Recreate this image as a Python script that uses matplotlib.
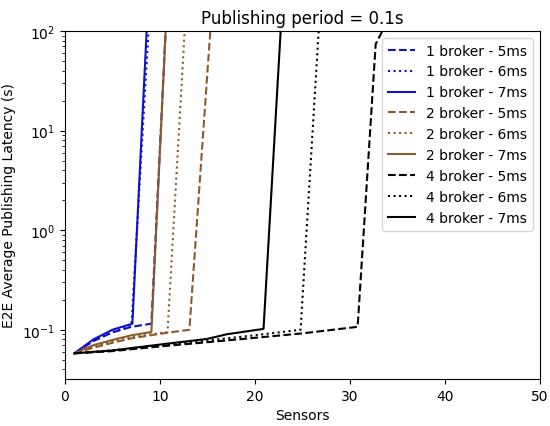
import matplotlib
matplotlib.use("Agg")
from matplotlib import pyplot as plt

# sensors / latency (s) for each broker count and processing time
b1_5ms_x = [1, 3, 5, 7, 9.1, 10.6]
b1_5ms_y = [0.058, 0.077, 0.094, 0.107, 0.115, 100]
b1_6ms_x = [1, 3, 5, 7, 8.8]
b1_6ms_y = [0.058, 0.078, 0.095, 0.11, 100]
b1_7ms_x = [1, 3, 5, 7.1, 8.6]
b1_7ms_y = [0.058, 0.08, 0.1, 0.115, 100]

b2_5ms_x = [1, 3, 5, 7, 9, 11, 13.1, 15.3]
b2_5ms_y = [0.058, 0.066, 0.074, 0.082, 0.088, 0.094, 0.1, 100]
b2_6ms_x = [1, 3, 5, 7, 9, 10.8, 12.6]
b2_6ms_y = [0.058, 0.068, 0.076, 0.084, 0.09, 0.095, 100]
b2_7ms_x = [1, 3, 5, 7, 9.1, 10.6]
b2_7ms_y = [0.058, 0.07, 0.079, 0.088, 0.095, 100]

b4_5ms_x = [1, 5, 10, 15, 20, 25, 30.8, 32.7, 33.4]
b4_5ms_y = [0.058, 0.061, 0.068, 0.075, 0.083, 0.092, 0.107, 74, 100]
b4_6ms_x = [1, 5, 10, 15, 20, 24.8, 26.7]
b4_6ms_y = [0.058, 0.062, 0.07, 0.078, 0.088, 0.1, 100]
b4_7ms_x = [1, 5, 10, 15, 17, 20.9, 22.7]
b4_7ms_y = [0.058, 0.062, 0.071, 0.081, 0.09, 0.102, 100]

blue = "#1010cc"
brown = "#8b5a2b"

fig, ax = plt.subplots(figsize=(5.5, 4.27), dpi=100)

ax.plot(b1_5ms_x, b1_5ms_y, color=blue, linestyle="--", label="1 broker - 5ms")
ax.plot(b1_6ms_x, b1_6ms_y, color=blue, linestyle=":", label="1 broker - 6ms")
ax.plot(b1_7ms_x, b1_7ms_y, color=blue, linestyle="-", label="1 broker - 7ms")
ax.plot(b2_5ms_x, b2_5ms_y, color=brown, linestyle="--", label="2 broker - 5ms")
ax.plot(b2_6ms_x, b2_6ms_y, color=brown, linestyle=":", label="2 broker - 6ms")
ax.plot(b2_7ms_x, b2_7ms_y, color=brown, linestyle="-", label="2 broker - 7ms")
ax.plot(b4_5ms_x, b4_5ms_y, color="black", linestyle="--", label="4 broker - 5ms")
ax.plot(b4_6ms_x, b4_6ms_y, color="black", linestyle=":", label="4 broker - 6ms")
ax.plot(b4_7ms_x, b4_7ms_y, color="black", linestyle="-", label="4 broker - 7ms")

ax.set_yscale("log")
ax.set_xlim(0, 50)
ax.set_ylim(0.032, 100)
ax.set_title("Publishing period = 0.1s")
ax.set_xlabel("Sensors")
ax.set_ylabel("E2E Average Publishing Latency (s)")
ax.legend(loc="upper right")

fig.subplots_adjust(left=0.118, right=0.982, top=0.925, bottom=0.11)
fig.savefig("out.png")
